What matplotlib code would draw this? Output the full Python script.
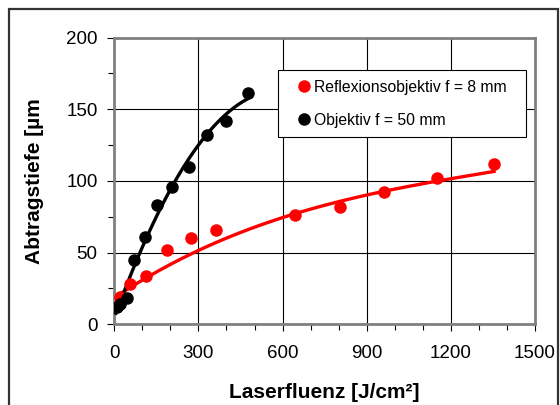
import numpy as np
import matplotlib
matplotlib.use("Agg")
import matplotlib.pyplot as plt
from matplotlib.patches import Rectangle

plt.rcParams['font.family'] = ['Liberation Sans', 'DejaVu Sans']

# Objektiv f = 50 mm
black_x = [10, 22, 44, 71, 108, 153, 204, 266, 329, 397, 475]
black_y = [12, 14, 18, 45, 61, 83, 96, 110, 132, 142, 161]
# Reflexionsobjektiv f = 8 mm
red_x = [22, 56, 113, 187, 273, 362, 646, 804, 962, 1150, 1354]
red_y = [19, 28, 34, 52, 60, 66, 76, 82, 92, 102, 112]
# red trend line
red_fit_x = [14, 56, 113, 300, 394, 646, 1150, 1354]
red_fit_y = [18, 27, 34, 51, 60, 76, 101, 106]

fig = plt.figure(figsize=(5.6, 4.05), dpi=100)
ax = fig.add_axes([0.2041, 0.1993, 0.7513, 0.7081])

# smooth trend lines
p_red = np.polyfit(red_fit_x, red_fit_y, 3)
xx = np.linspace(min(red_fit_x), max(red_fit_x), 200)
ax.plot(xx, np.polyval(p_red, xx), color='red', linewidth=2.4, zorder=3)
p_blk = np.polyfit(black_x, black_y, 2)
xx = np.linspace(min(black_x) - 4, max(black_x), 200)
ax.plot(xx, np.polyval(p_blk, xx), color='black', linewidth=2.4, zorder=3)

ax.plot(red_x, red_y, 'o', color='red', markersize=8, label='Reflexionsobjektiv f = 8 mm', zorder=4)
ax.plot(black_x, black_y, 'o', color='black', markersize=8, label='Objektiv f = 50 mm', zorder=4)

ax.set_xlim(0, 1500)
ax.set_ylim(0, 200)
ax.set_xticks([0, 300, 600, 900, 1200, 1500])
ax.set_yticks([0, 50, 100, 150, 200])
ax.set_xticks(np.arange(0, 1501, 100), minor=True)
ax.set_yticks(np.arange(0, 201, 25), minor=True)
ax.grid(True, which='major', color='black', linewidth=0.8)
ax.tick_params(which='major', direction='out', length=5, width=0.8, labelsize=13.5, pad=7)
ax.tick_params(axis='x', which='major', pad=10)
ax.tick_params(which='minor', direction='out', length=4, width=0.8)
for s in ax.spines.values():
    s.set_color('#808080')
    s.set_linewidth(2)

ax.set_xlabel('Laserfluenz [J/cm²]', fontsize=15, fontweight='bold', labelpad=15)
ax.set_ylabel('Abtragstiefe [µm', fontsize=15, fontweight='bold', labelpad=16)

leg = ax.legend(loc='upper left', bbox_to_anchor=(0.388, 0.661, 0.590, 0.224), mode='expand',
                borderaxespad=0, fontsize=11.3, frameon=True, fancybox=False,
                edgecolor='black', framealpha=1, handletextpad=-0.45, handlelength=2.2,
                borderpad=0.6, labelspacing=1.15)
leg.get_frame().set_linewidth(0.8)

fig.patches.append(Rectangle((9 / 560, -0.05), 549 / 560, 1.05 - 9 / 405,
                             transform=fig.transFigure, fill=False,
                             edgecolor='#333333', linewidth=1.6))

fig.savefig('out.png', dpi=100)
